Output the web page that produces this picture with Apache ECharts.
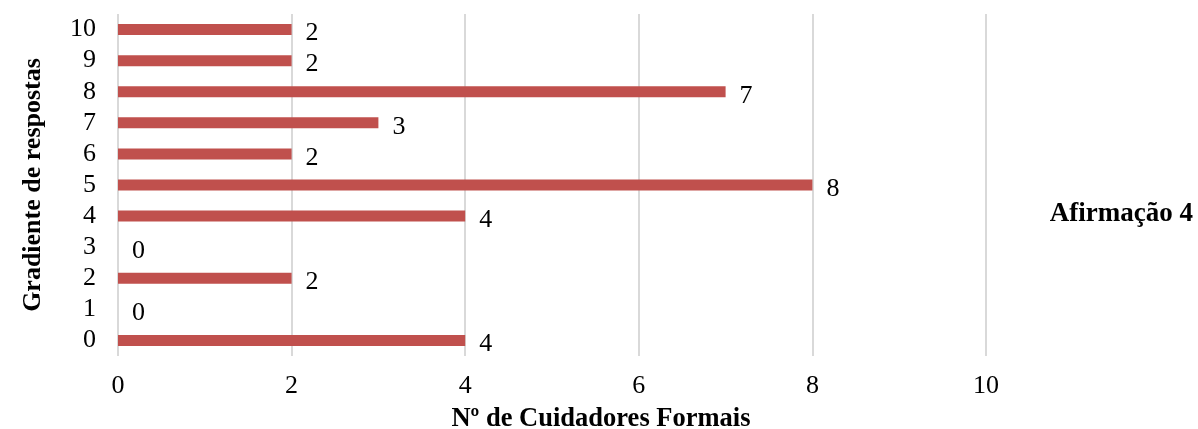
<!DOCTYPE html>
<html>
<head>
<meta charset="utf-8">
<script src="https://cdn.jsdelivr.net/npm/echarts@6/dist/echarts.min.js"></script>
<style>
  html, body { margin: 0; padding: 0; background: #fff; }
  #chart { width: 1198px; height: 429px; }
</style>
</head>
<body>
<div id="chart"></div>
<script>
// Response gradient (0–10) and number of formal caregivers per level
const categories = ['0', '1', '2', '3', '4', '5', '6', '7', '8', '9', '10'];
const values = [4, 0, 2, 0, 4, 8, 2, 3, 7, 2, 2];
const seriesName = 'Afirmação 4';
const xTicks = [0, 2, 4, 6, 8, 10];

const FONT = '"Liberation Serif", "Times New Roman", serif';

const chart = echarts.init(document.getElementById('chart'));
chart.setOption({
  animation: false,
  textStyle: { fontFamily: FONT },
  grid: {
    left: 118, right: 212, top: 14, bottom: 73,
    containLabel: false,
    outerBoundsMode: 'none'
  },
  legend: {
    right: 0,
    top: 'middle',
    orient: 'vertical',
    data: [{ name: seriesName, icon: 'none' }],
    itemWidth: 0,
    itemGap: 0,
    textStyle: { fontFamily: FONT, fontSize: 27, fontWeight: 'bold', color: '#000' }
  },
  xAxis: {
    type: 'value',
    min: xTicks[0],
    max: xTicks[xTicks.length - 1],
    interval: 2,
    name: 'Nº de Cuidadores Formais',
    nameLocation: 'middle',
    nameGap: 50,
    nameTextStyle: {
      fontFamily: FONT, fontSize: 26.5, fontWeight: 'bold', color: '#000',
      padding: [0, 0, 0, 98]
    },
    axisLine: { show: false },
    axisTick: { show: false },
    axisLabel: { fontFamily: FONT, fontSize: 26, color: '#000', margin: 17 },
    splitLine: { show: true, lineStyle: { color: '#d9d9d9', width: 2 } }
  },
  yAxis: {
    type: 'category',
    data: categories,
    name: 'Gradiente de respostas',
    nameLocation: 'middle',
    nameGap: 72,
    nameRotate: 90,
    nameTextStyle: { fontFamily: FONT, fontSize: 26, fontWeight: 'bold', color: '#000' },
    axisLine: { show: false },
    axisTick: { show: false },
    axisLabel: { fontFamily: FONT, fontSize: 26, color: '#000', margin: 22, interval: 0 }
  },
  series: [{
    name: seriesName,
    type: 'bar',
    data: values,
    barWidth: 11,
    itemStyle: { color: '#C0504D' },
    label: {
      show: true,
      position: 'right',
      distance: 14,
      offset: [0, 4],
      fontFamily: FONT,
      fontSize: 26,
      color: '#000'
    }
  }]
});
</script>
</body>
</html>
